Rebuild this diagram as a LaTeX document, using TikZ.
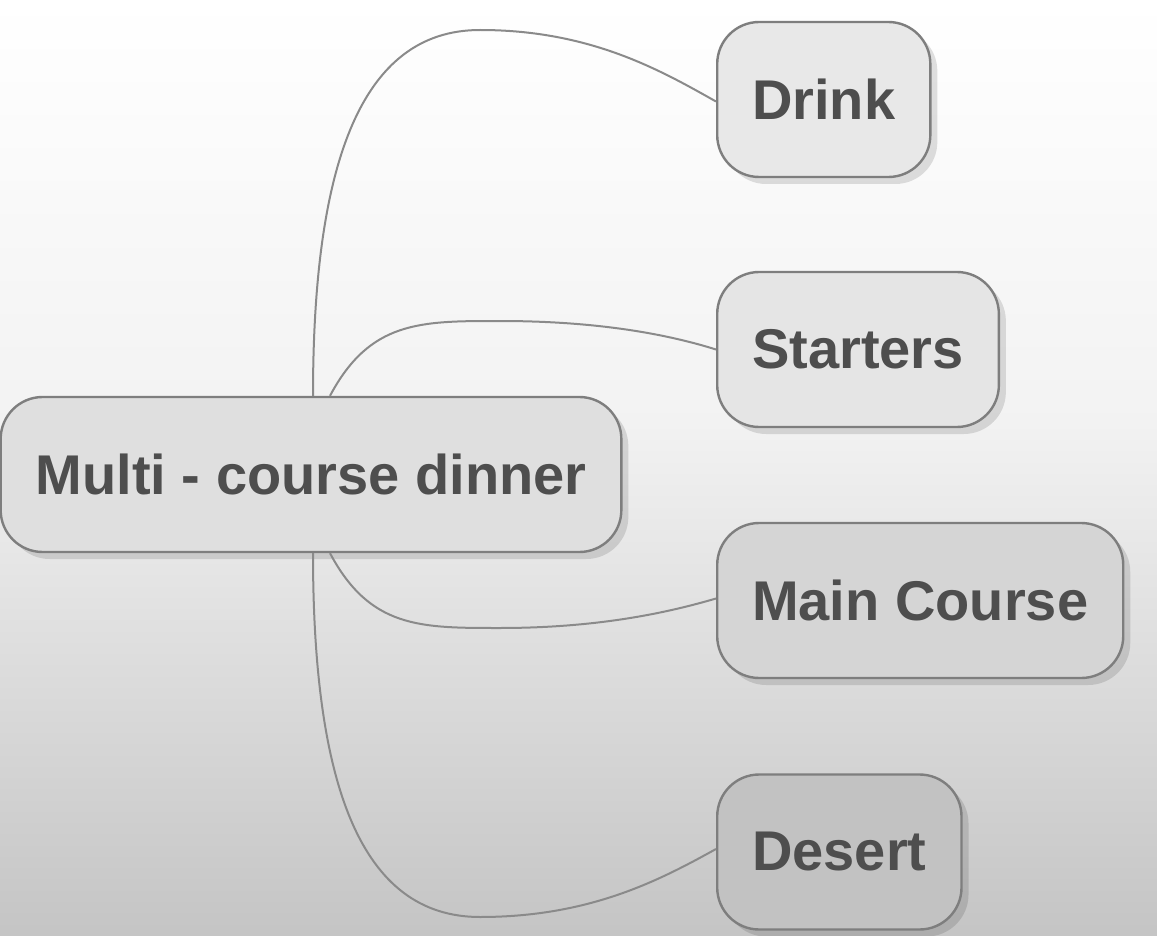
\documentclass[tikz,border=0pt]{standalone}
\usepackage{fontspec}
\setmainfont{Liberation Sans}
\usetikzlibrary{shadows}
\definecolor{txt}{HTML}{4E4E4E}
\definecolor{edge}{HTML}{7E7E7E}
\definecolor{wire}{HTML}{8A8A8A}
\begin{document}
\begin{tikzpicture}[x=1pt,y=-1pt,
  topic/.style={draw=edge, line width=2.4pt, rounded corners=42pt,
    minimum height=155pt, inner xsep=35pt, inner ysep=0pt,
    font=\fontsize{56}{62}\selectfont\bfseries, text=txt,
    drop shadow={shadow xshift=7pt, shadow yshift=-7pt, opacity=0.12, fill=black}},
  link/.style={draw=wire, line width=2pt}]
\useasboundingbox (0,0) rectangle (1157,936);
\shade[top color=white, bottom color=gray!10] (0,-1) rectangle (1157,421);
\shade[top color=gray!10, middle color=gray!30, bottom color=gray!46] (0,420) rectangle (1157,937);

\node[topic, fill=gray!25, minimum width=618pt] (main) at (311,474.5) {Multi - course dinner};
\node[topic, fill=gray!18, anchor=west] (drink) at (716,99.5) {Drink};
\node[topic, fill=gray!20, anchor=west] (start) at (716,349.5) {Starters};
\node[topic, fill=gray!33, anchor=west] (mainc) at (716,600.5) {Main Course};
\node[topic, fill=gray!48, anchor=west] (desert) at (716,852) {Desert};

\draw[link] ([xshift=2pt]main.north) .. controls ++(0,-230) and (360,30) .. (480,30)
  .. controls (590,30) and (660,70) .. ([yshift=-2pt]drink.west);
\draw[link] ([xshift=19pt]main.north) .. controls ++(40,-75) and (420,321) .. (500,321)
  .. controls (600,321) and (670,335) .. (start.west);
\draw[link] ([xshift=19pt]main.south) .. controls ++(40,75) and (420,628) .. (500,628)
  .. controls (600,628) and (670,612) .. ([yshift=2pt]mainc.west);
\draw[link] ([xshift=2pt]main.south) .. controls ++(0,230) and (360,917) .. (480,917)
  .. controls (590,917) and (660,880) .. ([yshift=3pt]desert.west);
\end{tikzpicture}
\end{document}
